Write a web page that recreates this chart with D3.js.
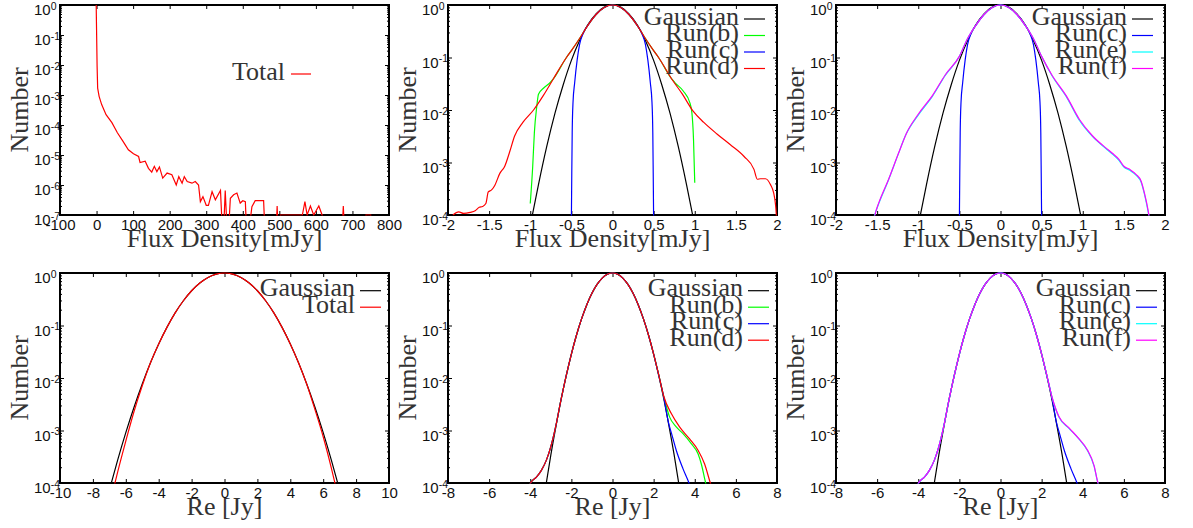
<!DOCTYPE html>
<html>
<head>
<meta charset="utf-8">
<script src="https://cdn.jsdelivr.net/npm/d3@7"></script>
<style>
  body { margin: 0; background: #fff; }
  svg { display: block; }
</style>
</head>
<body>
<script>
// DATA ([x, number])

// top-left: flux histogram of the total map
var fluxTotal = [[-1, 1], [1.5, 9e-3], [3, 1.7e-3], [7, 9e-4], [14, 4.8e-4], [26, 2.2e-4],
  [42, 1.2e-4], [57, 5.5e-5], [72, 2.9e-5], [87, 1.5e-5], [101, 1.1e-5], [115, 8.9e-6],
  [119, 5.6e-6], [133, 6.2e-6], [142, 3.6e-6], [151, 2.7e-6], [158, 4.2e-6], [165, 2.8e-6],
  [172, 4.0e-6], [181, 1.7e-6], [193, 2.5e-6], [206, 2.2e-6], [218, 1.0e-6], [225, 1.9e-6],
  [234, 1.15e-6], [240, 1.9e-6], [248, 1.3e-6], [261, 1.15e-6], [270, 1.3e-6], [279, 1.0e-6],
  [284, 2.8e-7], [291, 4.1e-7], [300, 2.1e-7], [306, 2.1e-7], [316, 6.0e-7], [325, 3.2e-7],
  [339, 6.6e-7], [346, 1e-8], [352, 6.6e-7], [359, 1e-8], [366, 3.6e-7], [375, 4.7e-7],
  [384, 5.4e-7], [393, 2.5e-7], [400, 3.0e-7], [407, 2.8e-7], [412, 1e-8], [425, 1.9e-7],
  [434, 3.0e-7], [457, 3.0e-7], [462, 1e-8], [490, 1e-8], [494, 2e-7], [498, 1e-8],
  [503, 1e-7], [563, 1e-7], [570, 2.8e-7], [576, 1e-7], [585, 2e-7], [594, 1e-7],
  [608, 2e-7], [617, 1e-7], [625, 1e-8], [670, 1e-8], [675, 2e-7], [680, 1e-8],
  [735, 1e-8], [737, 1e-7], [750, 1e-7], [752, 1e-8]];

// top-middle / top-right: flux density [mJy]
var gaussFlux = [[-0.98, 9e-5], [-0.9, 3.8e-4], [-0.8, 2.0e-3], [-0.7, 8.6e-3], [-0.6, 3.0e-2],
  [-0.5, 8.8e-2], [-0.4, 0.21], [-0.3, 0.42], [-0.2, 0.68], [-0.1, 0.91], [0, 1], [0.1, 0.91],
  [0.2, 0.68], [0.3, 0.42], [0.4, 0.21], [0.5, 8.8e-2], [0.6, 3.0e-2], [0.7, 8.6e-3],
  [0.8, 2.0e-3], [0.9, 3.8e-4], [0.98, 9e-5]];

var runBFlux = [[-1.0, 1.66e-4], [-0.97, 8.5e-4], [-0.95, 3.7e-3], [-0.92, 1.2e-2], [-0.9, 2.0e-2],
  [-0.84, 2.6e-2], [-0.76, 3.3e-2], [-0.72, 3.9e-2], [-0.56, 0.1], [-0.5, 0.135], [-0.4, 0.23],
  [-0.3, 0.41], [-0.2, 0.66], [-0.1, 0.9], [0, 1], [0.1, 0.9], [0.2, 0.66], [0.3, 0.41],
  [0.4, 0.23], [0.5, 0.135], [0.56, 0.1], [0.72, 3.9e-2], [0.76, 3.3e-2], [0.86, 2.3e-2],
  [0.94, 1.38e-2], [0.965, 8.9e-3], [0.985, 2.75e-3], [1.0, 4.1e-4]];

var runCFlux = [[-0.5, 8e-5], [-0.495, 6.3e-4], [-0.49, 3.7e-3], [-0.48, 1.4e-2], [-0.46, 3.3e-2],
  [-0.43, 8.9e-2], [-0.4, 0.178], [-0.36, 0.28], [-0.3, 0.41], [-0.2, 0.66], [-0.1, 0.9], [0, 1],
  [0.1, 0.9], [0.2, 0.66], [0.3, 0.41], [0.36, 0.28], [0.4, 0.178], [0.43, 8.9e-2],
  [0.46, 3.3e-2], [0.48, 1.4e-2], [0.49, 3.7e-3], [0.495, 6.3e-4], [0.5, 8e-5]];

var runDFlux = [[-1.94, 1.0e-4], [-1.87, 1.15e-4], [-1.81, 1.07e-4], [-1.73, 1.12e-4],
  [-1.67, 1.2e-4], [-1.62, 1.4e-4], [-1.58, 1.45e-4], [-1.54, 1.65e-4], [-1.51, 2.75e-4],
  [-1.47, 3.0e-4], [-1.43, 3.7e-4], [-1.37, 6.2e-4], [-1.31, 8.5e-4], [-1.25, 1.6e-3],
  [-1.19, 3.2e-3], [-1.09, 5.8e-3], [-0.96, 1.0e-2], [-0.84, 1.9e-2], [-0.72, 3.9e-2],
  [-0.56, 0.1], [-0.5, 0.135], [-0.4, 0.23], [-0.3, 0.41], [-0.2, 0.66], [-0.1, 0.9], [0, 1],
  [0.1, 0.9], [0.2, 0.66], [0.3, 0.41], [0.4, 0.23], [0.5, 0.135], [0.56, 0.1], [0.72, 3.9e-2],
  [0.85, 2.0e-2], [0.98, 9.5e-3], [1.11, 5.8e-3], [1.27, 3.5e-3], [1.43, 2.2e-3], [1.6, 1.3e-3],
  [1.72, 7.4e-4], [1.76, 4.8e-4], [1.8, 4.9e-4], [1.86, 4.9e-4], [1.92, 3.8e-4], [1.96, 2.6e-4],
  [1.99, 1.1e-4], [2.0, 5e-5]];

var runEFlux = [[-1.55, 8e-5], [-1.53, 1.0e-4], [-1.49, 1.5e-4], [-1.37, 4.3e-4], [-1.25, 1.35e-3],
  [-1.15, 3.4e-3], [-1.0, 8.0e-3], [-0.83, 1.8e-2], [-0.67, 4.6e-2], [-0.5, 0.105], [-0.4, 0.23],
  [-0.3, 0.41], [-0.2, 0.66], [-0.1, 0.9], [0, 1], [0.1, 0.9], [0.2, 0.66], [0.3, 0.41],
  [0.4, 0.23], [0.5, 0.105], [0.63, 4.4e-2], [0.8, 1.8e-2], [0.96, 6.3e-3], [1.12, 3.1e-3],
  [1.28, 1.85e-3], [1.36, 1.45e-3], [1.44, 1.1e-3], [1.5, 8.2e-4], [1.57, 7.1e-4],
  [1.65, 5.7e-4], [1.71, 4.2e-4], [1.75, 2.5e-4], [1.8, 1.05e-4], [1.82, 7e-5]];

var runFFlux = [[-1.54, 8e-5], [-1.52, 1.1e-4], [-1.48, 1.7e-4], [-1.36, 4.8e-4], [-1.24, 1.5e-3],
  [-1.14, 3.7e-3], [-1.0, 8.3e-3], [-0.83, 1.86e-2], [-0.67, 4.7e-2], [-0.5, 0.105], [-0.4, 0.23],
  [-0.3, 0.41], [-0.2, 0.66], [-0.1, 0.9], [0, 1], [0.1, 0.9], [0.2, 0.66], [0.3, 0.41],
  [0.4, 0.23], [0.5, 0.105], [0.63, 4.5e-2], [0.8, 1.86e-2], [0.96, 6.6e-3], [1.12, 3.2e-3],
  [1.28, 1.9e-3], [1.36, 1.5e-3], [1.44, 1.15e-3], [1.5, 8.5e-4], [1.57, 7.4e-4],
  [1.65, 5.9e-4], [1.71, 4.4e-4], [1.75, 2.6e-4], [1.8, 1.1e-4], [1.82, 7e-5]];

// bottom-left: Re [Jy] of the total map
var gaussRe = [[-6.9, 9.5e-5], [-6.5, 2.7e-4], [-6, 9.1e-4], [-5.5, 2.78e-3], [-5, 7.7e-3],
  [-4.5, 1.95e-2], [-4, 4.45e-2], [-3.5, 9.2e-2], [-3, 0.174], [-2.5, 0.296], [-2, 0.459],
  [-1.5, 0.645], [-1, 0.823], [-0.5, 0.953], [0, 1], [0.5, 0.953], [1, 0.823], [1.5, 0.645],
  [2, 0.459], [2.5, 0.296], [3, 0.174], [3.5, 9.2e-2], [4, 4.45e-2], [4.5, 1.95e-2],
  [5, 7.7e-3], [5.5, 2.78e-3], [6, 9.1e-4], [6.5, 2.7e-4], [6.9, 9.5e-5]];

var totalRe = [[-6.7, 8.9e-5], [-6.5, 1.6e-4], [-6, 6.3e-4], [-5.5, 2.3e-3], [-5, 7.1e-3],
  [-4.5, 1.95e-2], [-4, 4.45e-2], [-3.5, 9.2e-2], [-3, 0.174], [-2.5, 0.296], [-2, 0.459],
  [-1.5, 0.645], [-1, 0.823], [-0.5, 0.953], [0, 1], [0.5, 0.953], [1, 0.823], [1.5, 0.645],
  [2, 0.459], [2.5, 0.296], [3, 0.174], [3.5, 9.2e-2], [4, 4.45e-2], [4.5, 1.95e-2],
  [5, 7.6e-3], [5.5, 2.5e-3], [6, 7.6e-4], [6.5, 1.9e-4], [6.75, 8.9e-5]];

// bottom-middle / bottom-right: Re [Jy] of the runs
var gaussRuns = [[-3.25, 8.4e-5], [-3, 3.4e-4], [-2.75, 1.2e-3], [-2.5, 3.9e-3], [-2.25, 1.11e-2],
  [-2, 2.86e-2], [-1.75, 6.6e-2], [-1.5, 0.135], [-1.25, 0.249], [-1, 0.411], [-0.75, 0.607],
  [-0.5, 0.8], [-0.25, 0.946], [0, 1], [0.25, 0.946], [0.5, 0.8], [0.75, 0.607], [1, 0.411],
  [1.25, 0.249], [1.5, 0.135], [1.75, 6.6e-2], [2, 2.86e-2], [2.25, 1.11e-2], [2.5, 3.9e-3],
  [2.75, 1.2e-3], [3, 3.4e-4], [3.25, 8.4e-5]];

var runBRe = [[-4.05, 9e-5], [-3.95, 1.05e-4], [-3.7, 1.29e-4], [-3.46, 1.74e-4], [-3.22, 2.7e-4],
  [-3.0, 4.9e-4], [-2.75, 1.25e-3], [-2.5, 3.9e-3], [-2.25, 1.11e-2], [-2, 2.86e-2],
  [-1.75, 6.6e-2], [-1.5, 0.135], [-1.25, 0.249], [-1, 0.411], [-0.75, 0.607], [-0.5, 0.8],
  [-0.25, 0.946], [0, 1], [0.25, 0.946], [0.5, 0.8], [0.75, 0.607], [1, 0.411], [1.25, 0.249],
  [1.5, 0.135], [1.75, 6.6e-2], [2, 2.86e-2], [2.25, 1.15e-2], [2.5, 4.3e-3], [2.78, 1.8e-3],
  [3.1, 1.17e-3], [3.43, 8.7e-4], [3.83, 5.6e-4], [4.16, 3.6e-4], [4.32, 2.3e-4], [4.53, 1e-4],
  [4.56, 9e-5]];

var runCRe = [[-4.05, 9e-5], [-3.95, 1.05e-4], [-3.7, 1.29e-4], [-3.46, 1.74e-4], [-3.22, 2.7e-4],
  [-3.0, 4.9e-4], [-2.75, 1.25e-3], [-2.5, 3.9e-3], [-2.25, 1.11e-2], [-2, 2.86e-2],
  [-1.75, 6.6e-2], [-1.5, 0.135], [-1.25, 0.249], [-1, 0.411], [-0.75, 0.607], [-0.5, 0.8],
  [-0.25, 0.946], [0, 1], [0.25, 0.946], [0.5, 0.8], [0.75, 0.607], [1, 0.411], [1.25, 0.249],
  [1.5, 0.135], [1.75, 6.6e-2], [2, 2.86e-2], [2.25, 1.12e-2], [2.5, 4.2e-3], [2.7, 1.55e-3],
  [2.9, 8e-4], [3.1, 4.2e-4], [3.43, 1.86e-4], [3.72, 1e-4], [3.76, 9e-5]];

var runDRe = [[-4.05, 9e-5], [-3.95, 1.05e-4], [-3.7, 1.29e-4], [-3.46, 1.74e-4], [-3.22, 2.7e-4],
  [-3.0, 4.9e-4], [-2.75, 1.25e-3], [-2.5, 3.9e-3], [-2.25, 1.11e-2], [-2, 2.86e-2],
  [-1.75, 6.6e-2], [-1.5, 0.135], [-1.25, 0.249], [-1, 0.411], [-0.75, 0.607], [-0.5, 0.8],
  [-0.25, 0.946], [0, 1], [0.25, 0.946], [0.5, 0.8], [0.75, 0.607], [1, 0.411], [1.25, 0.249],
  [1.5, 0.135], [1.75, 6.6e-2], [2, 2.86e-2], [2.25, 1.15e-2], [2.5, 4.4e-3], [2.86, 2.1e-3],
  [3.26, 1.17e-3], [3.75, 6.9e-4], [4.16, 4.2e-4], [4.48, 2.3e-4], [4.76, 1e-4], [4.8, 9e-5]];

var runERe = [[-4.05, 9e-5], [-3.95, 1.05e-4], [-3.7, 1.29e-4], [-3.46, 1.74e-4], [-3.22, 2.7e-4],
  [-3.0, 4.9e-4], [-2.75, 1.25e-3], [-2.5, 3.9e-3], [-2.25, 1.11e-2], [-2, 2.86e-2],
  [-1.75, 6.6e-2], [-1.5, 0.135], [-1.25, 0.249], [-1, 0.411], [-0.75, 0.607], [-0.5, 0.8],
  [-0.25, 0.946], [0, 1], [0.25, 0.946], [0.5, 0.8], [0.75, 0.607], [1, 0.411], [1.25, 0.249],
  [1.5, 0.135], [1.75, 6.6e-2], [2, 2.86e-2], [2.25, 1.15e-2], [2.5, 4.4e-3], [2.84, 1.8e-3],
  [3.33, 1.1e-3], [3.81, 6.9e-4], [4.22, 4.2e-4], [4.55, 2.1e-4], [4.74, 1e-4], [4.78, 9e-5]];

var runFRe = [[-4.05, 9e-5], [-3.95, 1.05e-4], [-3.7, 1.29e-4], [-3.46, 1.74e-4], [-3.22, 2.7e-4],
  [-3.0, 4.9e-4], [-2.75, 1.25e-3], [-2.5, 3.9e-3], [-2.25, 1.11e-2], [-2, 2.86e-2],
  [-1.75, 6.6e-2], [-1.5, 0.135], [-1.25, 0.249], [-1, 0.411], [-0.75, 0.607], [-0.5, 0.8],
  [-0.25, 0.946], [0, 1], [0.25, 0.946], [0.5, 0.8], [0.75, 0.607], [1, 0.411], [1.25, 0.249],
  [1.5, 0.135], [1.75, 6.6e-2], [2, 2.86e-2], [2.25, 1.15e-2], [2.5, 4.4e-3], [2.84, 1.85e-3],
  [3.33, 1.12e-3], [3.81, 7.0e-4], [4.22, 4.3e-4], [4.55, 2.15e-4], [4.74, 1e-4], [4.78, 9e-5]];

// tick values
var fluxTicksTotal = [-100, 0, 100, 200, 300, 400, 500, 600, 700, 800];
var fluxTicksRuns = [-2, -1.5, -1, -0.5, 0, 0.5, 1, 1.5, 2];
var reTicksTotal = [-10, -8, -6, -4, -2, 0, 2, 4, 6, 8, 10];
var reTicksRuns = [-8, -6, -4, -2, 0, 2, 4, 6, 8];

// series labels / colours
var colors = {
  "Gaussian": "#000000", "Total": "#ff0000", "Run(b)": "#00ff00", "Run(c)": "#0000ff",
  "Run(d)": "#ff0000", "Run(e)": "#00ffff", "Run(f)": "#ff00ff"
};

// LAYOUT
var colLeft = [60, 448, 836],
  rowTop = [5, 273],
  pw = 329,
  ph = 210;

var panels = [
  { col: 0, row: 0, xDomain: [-100, 800], xTicks: fluxTicksTotal, yMinExp: -7,
    xTitle: "Flux Density[mJy]", curve: d3.curveLinear,
    key: { x1: 231, x2: 251, tx: 225, y0: 69 },
    series: [["Total", fluxTotal]] },
  { col: 1, row: 0, xDomain: [-2, 2], xTicks: fluxTicksRuns, yMinExp: -4,
    xTitle: "Flux Density[mJy]", curve: d3.curveMonotoneX,
    series: [["Gaussian", gaussFlux], ["Run(b)", runBFlux], ["Run(c)", runCFlux], ["Run(d)", runDFlux]] },
  { col: 2, row: 0, xDomain: [-2, 2], xTicks: fluxTicksRuns, yMinExp: -4,
    xTitle: "Flux Density[mJy]", curve: d3.curveMonotoneX,
    series: [["Gaussian", gaussFlux], ["Run(c)", runCFlux], ["Run(e)", runEFlux], ["Run(f)", runFFlux]] },
  { col: 0, row: 1, xDomain: [-10, 10], xTicks: reTicksTotal, yMinExp: -4,
    xTitle: "Re [Jy]", curve: d3.curveMonotoneX,
    series: [["Gaussian", gaussRe], ["Total", totalRe]] },
  { col: 1, row: 1, xDomain: [-8, 8], xTicks: reTicksRuns, yMinExp: -4,
    xTitle: "Re [Jy]", curve: d3.curveMonotoneX,
    series: [["Gaussian", gaussRuns], ["Run(b)", runBRe], ["Run(c)", runCRe], ["Run(d)", runDRe]] },
  { col: 2, row: 1, xDomain: [-8, 8], xTicks: reTicksRuns, yMinExp: -4,
    xTitle: "Re [Jy]", curve: d3.curveMonotoneX,
    series: [["Gaussian", gaussRuns], ["Run(c)", runCRe], ["Run(e)", runERe], ["Run(f)", runFRe]] }
];

var sansFont = "'Liberation Sans', Arial, sans-serif",
  serifFont = "'Liberation Serif', 'Times New Roman', serif";

var svg = d3.select("body").append("svg")
  .attr("width", 1193)
  .attr("height", 528);

panels.forEach(function (p, i) {
  var left = colLeft[p.col],
    top = rowTop[p.row];

  var g = svg.append("g")
    .attr("transform", "translate(" + left + "," + top + ")");

  var x = d3.scaleLinear().domain(p.xDomain).range([0, pw]);
  var y = d3.scaleLog().domain([Math.pow(10, p.yMinExp), 1]).range([ph, 0]);

  var decades = d3.range(p.yMinExp, 1).map(function (e) { return Math.pow(10, e); });
  var minors = [];
  decades.slice(0, -1).forEach(function (d) {
    for (var k = 2; k < 10; k++) minors.push(d * k);
  });

  // x axis, ticks pointing inwards
  var xAxis = g.append("g")
    .attr("transform", "translate(0," + ph + ")")
    .call(d3.axisBottom(x).tickValues(p.xTicks).tickSize(-4).tickPadding(4)
      .tickFormat(function (d) { return String(d); }));
  xAxis.selectAll("text")
    .attr("font-family", sansFont)
    .attr("font-size", 15)
    .attr("fill", "#111");

  g.append("g")
    .call(d3.axisTop(x).tickValues(p.xTicks).tickSize(-4).tickFormat(""));

  // y axis, log scale with 10^n labels
  var yAxis = g.append("g")
    .call(d3.axisLeft(y).tickValues(decades).tickSize(-4).tickFormat(""));
  yAxis.selectAll(".tick text")
    .attr("text-anchor", "start")
    .attr("x", -26)
    .attr("dy", null)
    .attr("y", 9.5)
    .attr("font-family", sansFont)
    .attr("font-size", 15)
    .attr("fill", "#111")
    .each(function (d) {
      var t = d3.select(this);
      t.append("tspan").text("10");
      t.append("tspan")
        .attr("font-size", 10.5)
        .attr("dy", -5.5)
        .text(String(Math.round(Math.log10(d))));
    });

  g.append("g").call(d3.axisLeft(y).tickValues(minors).tickSize(-2).tickFormat(""));
  g.append("g").attr("transform", "translate(" + pw + ",0)")
    .call(d3.axisRight(y).tickValues(decades).tickSize(-4).tickFormat(""));
  g.append("g").attr("transform", "translate(" + pw + ",0)")
    .call(d3.axisRight(y).tickValues(minors).tickSize(-2).tickFormat(""));

  g.selectAll(".domain").remove();
  g.selectAll(".tick line").attr("stroke", "#000").attr("stroke-width", 1);

  // frame
  g.append("rect")
    .attr("width", pw)
    .attr("height", ph)
    .attr("fill", "none")
    .attr("stroke", "#000")
    .attr("stroke-width", 2);

  // clip to the plot box
  var clipId = "clip" + i;
  g.append("clipPath").attr("id", clipId)
    .append("rect")
    .attr("x", 0).attr("y", -1)
    .attr("width", pw).attr("height", ph + 1.5);

  var line = d3.line()
    .x(function (d) { return x(d[0]); })
    .y(function (d) { return y(d[1]); })
    .curve(p.curve);

  g.append("g").attr("clip-path", "url(#" + clipId + ")")
    .selectAll("path")
    .data(p.series)
    .enter().append("path")
    .attr("d", function (s) { return line(s[1]); })
    .attr("fill", "none")
    .attr("stroke", function (s) { return colors[s[0]]; })
    .attr("stroke-width", 1.2);

  // key
  var key = p.key || (p.row === 0
    ? { x1: pw - 33, x2: pw - 12, tx: pw - 38, y0: 14 }
    : { x1: pw - 29, x2: pw - 8, tx: pw - 34, y0: 17.7 });
  var keyRow = g.selectAll("g.key")
    .data(p.series)
    .enter().append("g")
    .attr("class", "key")
    .attr("transform", function (s, k) { return "translate(0," + (key.y0 + k * 16.5) + ")"; });
  keyRow.append("line")
    .attr("x1", key.x1).attr("x2", key.x2)
    .attr("stroke", function (s) { return colors[s[0]]; })
    .attr("stroke-width", 1.2);
  keyRow.append("text")
    .attr("x", key.tx)
    .attr("y", 5.5)
    .attr("text-anchor", "end")
    .attr("font-family", serifFont)
    .attr("font-size", 26)
    .attr("fill", "#333")
    .text(function (s) { return s[0]; });

  // axis titles
  g.append("text")
    .attr("transform", "translate(-32," + (ph / 2) + ") rotate(-90)")
    .attr("text-anchor", "middle")
    .attr("font-family", serifFont)
    .attr("font-size", 26)
    .attr("fill", "#333")
    .text("Number");

  g.append("text")
    .attr("x", pw / 2)
    .attr("y", ph + 32)
    .attr("text-anchor", "middle")
    .attr("font-family", serifFont)
    .attr("font-size", 26)
    .attr("fill", "#333")
    .text(p.xTitle);
});
</script>
</body>
</html>
